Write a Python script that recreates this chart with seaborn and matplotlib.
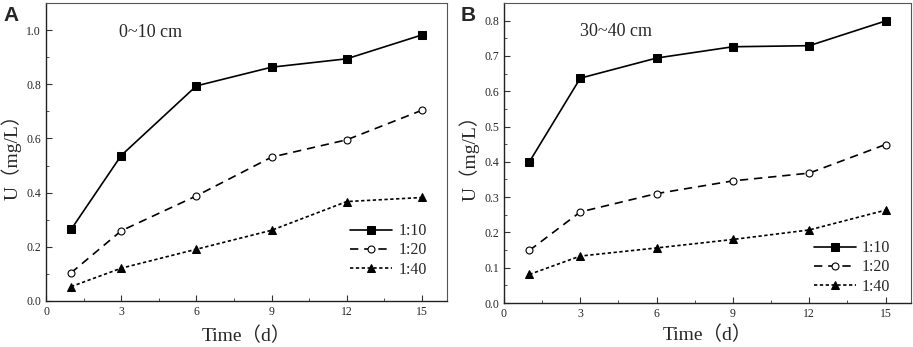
import numpy as np
import pandas as pd
import seaborn as sns
import matplotlib.pyplot as plt
from matplotlib.ticker import MultipleLocator

days = [1, 3, 6, 9, 12, 15]
ratios = ['1:10', '1:20', '1:40']

# 0~10 cm
a_110 = [0.264, 0.537, 0.794, 0.863, 0.894, 0.982]
a_120 = [0.104, 0.259, 0.388, 0.531, 0.595, 0.704]
a_140 = [0.053, 0.121, 0.191, 0.261, 0.367, 0.382]

# 30~40 cm
b_110 = [0.400, 0.637, 0.694, 0.726, 0.729, 0.799]
b_120 = [0.149, 0.258, 0.310, 0.346, 0.368, 0.449]
b_140 = [0.081, 0.133, 0.156, 0.180, 0.207, 0.263]

def long_df(s1, s2, s3):
    rows = []
    for r, vals in zip(ratios, [s1, s2, s3]):
        for d, v in zip(days, vals):
            rows.append({'Time': d, 'U': v, 'ratio': r})
    return pd.DataFrame(rows)

df_a = long_df(a_110, a_120, a_140)
df_b = long_df(b_110, b_120, b_140)

sns.set_style('ticks')
plt.rcParams['font.family'] = ['Liberation Serif', 'Noto Sans CJK SC']

fig = plt.figure(figsize=(9.13, 3.47), dpi=100)
ax_a = fig.add_axes([0.0504, 0.1326, 0.4392, 0.8588])
ax_b = fig.add_axes([0.552, 0.1268, 0.4458, 0.8646])

markers = {'1:10': 's', '1:20': 'o', '1:40': '^'}
dashes = {'1:10': '', '1:20': (5, 3.5), '1:40': (2, 1.5)}

def draw(ax, df, ymax, ymaj, ymin, label, depth, tx, ty, leg_y, xpad):
    sns.lineplot(data=df, x='Time', y='U', style='ratio', markers=markers,
                 dashes=dashes, color='black', markersize=5.5, linewidth=1.2,
                 markeredgecolor='black', legend=False, ax=ax)
    lines = ax.lines[:3]
    lines[1].set_markerfacecolor('white')
    lines[1].set_markeredgewidth(0.8)
    lines[1].set_markersize(5)
    ax.legend(lines, ratios, loc='lower right', frameon=False, fontsize=11.5,
              handlelength=2.6, handletextpad=0.4, labelspacing=0.2,
              bbox_to_anchor=(0.985, leg_y))
    ax.set_xlim(0, 16)
    ax.set_ylim(0, ymax)
    ax.xaxis.set_major_locator(MultipleLocator(3))
    ax.xaxis.set_minor_locator(MultipleLocator(1.5))
    ax.yaxis.set_major_locator(MultipleLocator(ymaj))
    ax.yaxis.set_minor_locator(MultipleLocator(ymin))
    ax.tick_params(which='both', direction='in', labelsize=8.5, color='#333333')
    ax.tick_params(which='major', length=4)
    ax.tick_params(which='minor', length=2.5)
    ax.set_xlabel('Time（d）', fontsize=14, labelpad=xpad)
    ax.set_ylabel('U（mg/L）', fontsize=14, labelpad=3)
    for s in ['top', 'right']:
        ax.spines[s].set_visible(True)
        ax.spines[s].set_color('#555555')
        ax.spines[s].set_linewidth(0.8)
    for s in ['left', 'bottom']:
        ax.spines[s].set_color('#222222')
        ax.spines[s].set_linewidth(1.0)
    ax.text(tx, ty, depth, fontsize=13, va='center', ha='left')
    fig.text(ax.get_position().x0 - 0.047, 0.955, label, fontsize=15,
             fontweight='bold', family='Liberation Sans', va='center')

draw(ax_a, df_a, 1.1, 0.2, 0.1, 'A', '0~10 cm', 2.9, 0.99, 0.03, 6)
draw(ax_b, df_b, 0.85, 0.1, 0.05, 'B', '30~40 cm', 3.0, 0.77, -0.02, 4)
ax_a.set_yticks([0.0, 0.2, 0.4, 0.6, 0.8, 1.0])

fig.savefig('out.png', dpi=100)
